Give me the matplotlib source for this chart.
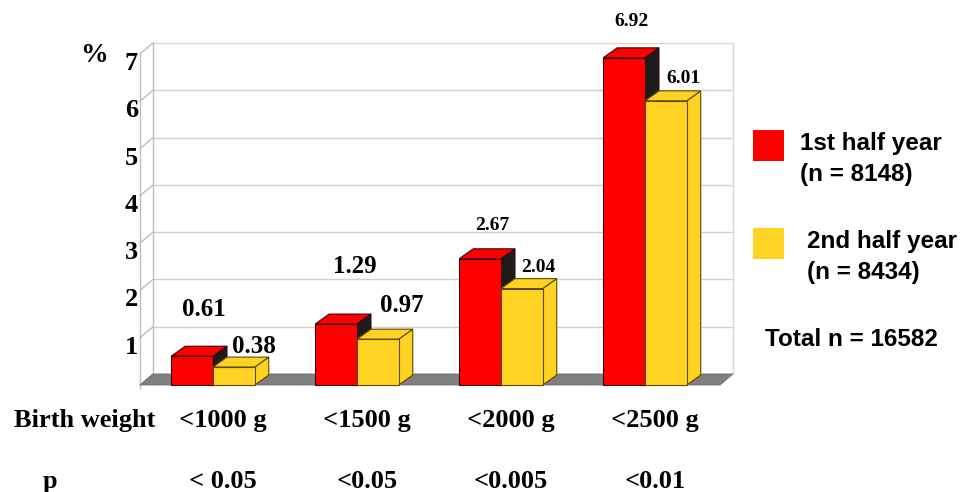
import matplotlib.pyplot as plt
from matplotlib.patches import Polygon, Rectangle

# Low birth weight rates (%) by half year
categories = ['<1000 g', '<1500 g', '<2000 g', '<2500 g']
p_values = ['< 0.05', '<0.05', '<0.005', '<0.01']
first_half = [0.61, 1.29, 2.67, 6.92]
second_half = [0.38, 0.97, 2.04, 6.01]
series_labels = ['1st half year\n(n = 8148)', '2nd half year\n(n = 8434)']
total_label = 'Total n = 16582'
y_ticks = [1, 2, 3, 4, 5, 6, 7]

# label placement (pixel offsets from bar top centre) and sizes
first_offsets = [(12, 40), (19, 51), (12, 29), (7, 32)]
second_offsets = [(20, 14), (24, 27), (16, 17), (18, 18)]
label_sizes = [18, 18, 14, 14]

RED = '#ff0000'
RED_SIDE = '#1c1c1c'
YELLOW = '#ffd324'
YELLOW_EDGE = '#5c4a00'

W, H = 962, 492
fig = plt.figure(figsize=(W / 100, H / 100), dpi=100)
ax = fig.add_axes([140 / W, 107 / H, 580 / W, 331 / H])
XL, XR = -0.507, 3.521
ax.set_xlim(XL, XR)
ax.set_ylim(0, 7)
ax.axis('off')

BAR_W = 0.29
BAR_DX, BAR_DY = 0.097, 0.21
WALL_DX, WALL_DY = 0.09, 0.233

serif = 'Liberation Serif'
sans = 'Liberation Sans'


def box(x0, width, h, front, top, side, edge, z):
    ax.add_patch(Polygon([(x0 + width, 0), (x0 + width + BAR_DX, BAR_DY),
                          (x0 + width + BAR_DX, h + BAR_DY), (x0 + width, h)],
                         closed=True, fc=side, ec=edge, lw=0.8, zorder=z, clip_on=False))
    ax.add_patch(Polygon([(x0, h), (x0 + width, h),
                          (x0 + width + BAR_DX, h + BAR_DY), (x0 + BAR_DX, h + BAR_DY)],
                         closed=True, fc=top, ec=edge, lw=0.8, zorder=z, clip_on=False))
    ax.add_patch(Rectangle((x0, 0), width, h, fc=front, ec=edge, lw=0.8,
                           zorder=z, clip_on=False))


# back wall and gridlines
ax.add_patch(Rectangle((XL + WALL_DX, WALL_DY), XR - XL, 7, fc='white',
                       ec='none', zorder=0, clip_on=False))
for k in y_ticks:
    col = '#dcd8c4' if k == 7 else '#cfcfcf'
    ax.plot([XL + WALL_DX, XR + WALL_DX], [k + WALL_DY, k + WALL_DY],
            color=col, lw=1, zorder=1, clip_on=False)
for k in [0] + y_ticks:
    ax.plot([XL, XL + WALL_DX], [k, k + WALL_DY], color='#bdbdbd', lw=1,
            zorder=1, clip_on=False)
ax.plot([XL, XL], [-0.07, 7], color='#bdbdbd', lw=1, zorder=1, clip_on=False)
ax.plot([XL + WALL_DX] * 2, [WALL_DY, 7 + WALL_DY], color='#bdbdbd', lw=1,
        zorder=1, clip_on=False)
ax.plot([XR + WALL_DX] * 2, [WALL_DY, 7 + WALL_DY], color='#dcd8c4', lw=1,
        zorder=1, clip_on=False)

# floor
ax.add_patch(Polygon([(XL, 0), (XR, 0), (XR + WALL_DX, WALL_DY), (XL + WALL_DX, WALL_DY)],
                     closed=True, fc='#808080', ec='#6e6e6e', lw=0.6, zorder=2,
                     clip_on=False))

# y tick labels
for k in y_ticks:
    ax.annotate(str(k), (XL, k), xytext=(-2, -16), textcoords='offset pixels',
                ha='right', va='baseline', fontsize=19, fontweight='bold',
                family=serif, annotation_clip=False)
ax.annotate('%', (XL, 7), xytext=(-46, -8), textcoords='offset pixels',
            ha='center', va='baseline', fontsize=20, fontweight='bold',
            family=serif, annotation_clip=False)

# bars
for i in range(len(categories)):
    box(i - BAR_W, BAR_W, first_half[i], RED, RED, RED_SIDE, '#3a0000', 3)
    box(i, BAR_W, second_half[i], YELLOW, YELLOW, YELLOW, YELLOW_EDGE, 4)
    for x0, v, off in ((i - BAR_W, first_half[i], first_offsets[i]),
                       (i, second_half[i], second_offsets[i])):
        ax.annotate(f'{v:.2f}', (x0 + BAR_W / 2, v), xytext=off,
                    textcoords='offset pixels', ha='center', va='baseline',
                    fontsize=label_sizes[i], fontweight='bold', family=serif,
                    zorder=6, annotation_clip=False)

# category and p-value rows
for i, (cat, p) in enumerate(zip(categories, p_values)):
    ax.annotate(cat, (i + 0.07, 0), xytext=(0, -42), textcoords='offset pixels',
                ha='center', va='baseline', fontsize=19, fontweight='bold',
                family=serif, annotation_clip=False)
    ax.annotate(p, (i + 0.07, 0), xytext=(0, -103), textcoords='offset pixels',
                ha='center', va='baseline', fontsize=19, fontweight='bold',
                family=serif, annotation_clip=False)
fig.text(85 / W, 1 - 427 / H, 'Birth weight', ha='center', va='baseline',
         fontsize=19, fontweight='bold', family=serif)
fig.text(50 / W, 1 - 488 / H, 'p', ha='center', va='baseline',
         fontsize=19, fontweight='bold', family=serif)

# legend
for (top, col), (tx, label) in zip([(130, RED), (228, YELLOW)],
                                   [(800, series_labels[0]), (807, series_labels[1])]):
    fig.patches.append(Rectangle((753 / W, 1 - (top + 31) / H), 31 / W, 31 / H,
                                 transform=fig.transFigure, fc=col, ec='none'))
    fig.text(tx / W, 1 - (top + 29) / H, label, ha='left', va='center',
             fontsize=17.5, fontweight='bold', family=sans, linespacing=1.4)
fig.text(765 / W, 1 - 340 / H, total_label, ha='left', va='center',
         fontsize=17.5, fontweight='bold', family=sans)

fig.savefig('out.png', dpi=100, facecolor='white')
